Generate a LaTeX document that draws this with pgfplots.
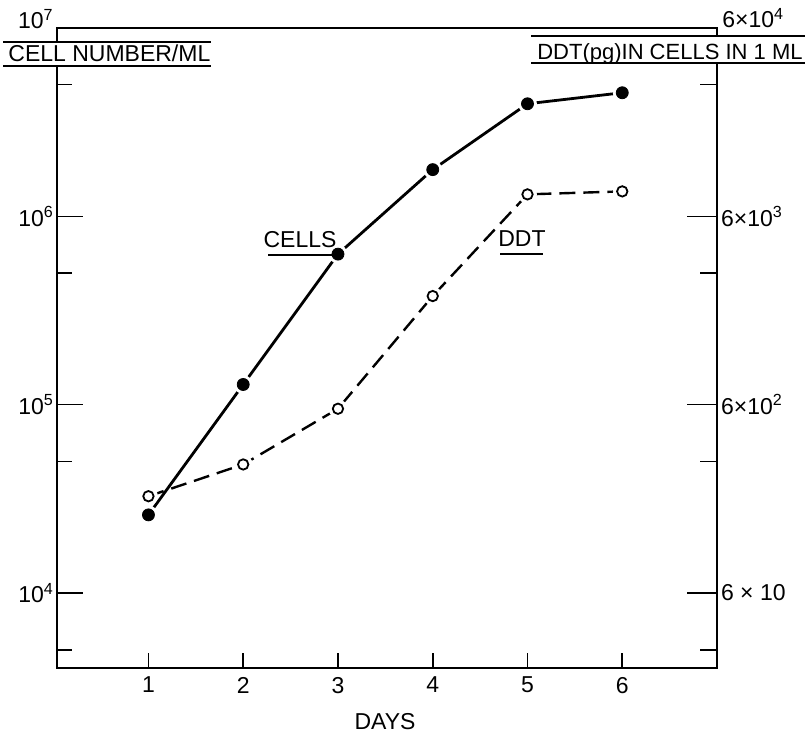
\documentclass[border=0pt]{standalone}
\usepackage{fontspec}
\setmainfont{Liberation Sans}
\usepackage{pgfplots}
\pgfplotsset{compat=1.18}

\pgfplotstableread{
day cells
1 2.6e4
2 1.28e5
3 6.3e5
4 1.77e6
5 3.96e6
6 4.53e6
}\cellstab
\pgfplotstableread{
day ddt
1 196
2 289
3 571
4 2264
5 7850
6 8140
}\ddttab

\begin{document}
\begin{tikzpicture}[font=\fontsize{11.5}{13}\selectfont]
\useasboundingbox (-28.5pt,-32.5pt) rectangle (374.5pt,334pt);

% main axis: box, x ticks, cells
\begin{axis}[
  at={(0,0)}, anchor=south west,
  scale only axis, width=330pt, height=320pt,
  xmin=0.035, xmax=7,
  ymode=log, ymin=4000, ymax=1e7,
  xtick={1,2,3,4,5,6}, ytick=\empty, yminorticks=false,
  xtick pos=bottom, tick align=inside,
  major tick length=7.5pt,
  axis line style={line width=1.2pt},
  xtick style={line width=0.8pt, black},
  /pgf/number format/assume math mode=true,
  xticklabel style={yshift=-1pt},
  clip=false,
]
\addplot[black, line width=1.4pt] table[x=day, y=cells] {\cellstab};
\addplot[only marks, mark=*, mark size=4.5pt, white, mark options={draw=white, fill=white}] table[x=day, y=cells] {\cellstab};
\addplot[only marks, mark=*, mark size=3pt, black, mark options={fill=black}] table[x=day, y=cells] {\cellstab};
\end{axis}

% left axis ticks
\begin{axis}[
  at={(0,0)}, anchor=south west,
  scale only axis, width=330pt, height=320pt,
  xmin=0.035, xmax=7, xtick=\empty,
  ymode=log, ymin=4000, ymax=1e7,
  ytick={1e4,1e5,1e6}, yticklabels={10\textsuperscript{4},10\textsuperscript{5},10\textsuperscript{6}},
  minor ytick={5000,50000,500000,5000000},
  ytick pos=left, tick align=inside,
  major tick length=13pt, minor tick length=7.5pt,
  ytick style={line width=0.8pt, black},
  axis line style={draw=none},
  yticklabel style={xshift=2pt},
]
\end{axis}

% right axis: DDT
\begin{axis}[
  at={(0,0)}, anchor=south west,
  scale only axis, width=330pt, height=320pt,
  xmin=0.035, xmax=7, xtick=\empty,
  ymode=log, ymin=24, ymax=60000,
  ytick={60,600,6000}, yticklabels={6 × 10,6×10\textsuperscript{2},6×10\textsuperscript{3}},
  minor ytick={30,300,3000,30000},
  ytick pos=right, tick align=inside,
  major tick length=15pt, minor tick length=8.5pt,
  ytick style={line width=0.8pt, black},
  axis line style={draw=none},
  yticklabel style={xshift=-1.5pt},
  clip=false,
]
\addplot[black, line width=1.2pt, dash pattern=on 8pt off 4pt] table[x=day, y=ddt] {\ddttab};
\addplot[only marks, mark=*, mark size=4.5pt, white, mark options={draw=white, fill=white}] table[x=day, y=ddt] {\ddttab};
\addplot[only marks, mark=o, mark size=2.6pt, black, mark options={line width=0.9pt, fill=white}] table[x=day, y=ddt] {\ddttab};
\end{axis}

% top labels
\node[anchor=base east, inner sep=0pt] at (-1.5pt,319.5pt) {10\textsuperscript{7}};
\fill[white] (-27pt,301pt) rectangle (77pt,313pt);
\draw[line width=0.9pt] (-27pt,313pt) -- (77pt,313pt) (-27pt,301pt) -- (77pt,301pt);
\node[anchor=base west, inner sep=0pt] at (-24.5pt,303pt) {CELL NUMBER/ML};

\node[anchor=base west, inner sep=0pt] at (332.5pt,320pt) {6×10\textsuperscript{4}};
\fill[white] (237pt,302.5pt) rectangle (374pt,316pt);
\draw[line width=0.9pt] (237pt,316pt) -- (374pt,316pt) (237pt,302.5pt) -- (374pt,302.5pt);
\node[anchor=base east, inner sep=0pt, font=\fontsize{11}{12}\selectfont] at (373pt,304pt) {DDT(pg)IN CELLS IN 1 ML};

% curve labels
\node[anchor=base, inner sep=0pt] at (121.5pt,210pt) {CELLS};
\draw[line width=0.8pt] (105.5pt,206.5pt) -- (138pt,206.5pt);
\node[anchor=base, inner sep=0pt] at (232.5pt,210.5pt) {DDT};
\draw[line width=0.8pt] (221.5pt,207pt) -- (243pt,207pt);

% x label
\node[anchor=base, inner sep=0pt] at (164pt,-30.5pt) {DAYS};
\end{tikzpicture}
\end{document}
